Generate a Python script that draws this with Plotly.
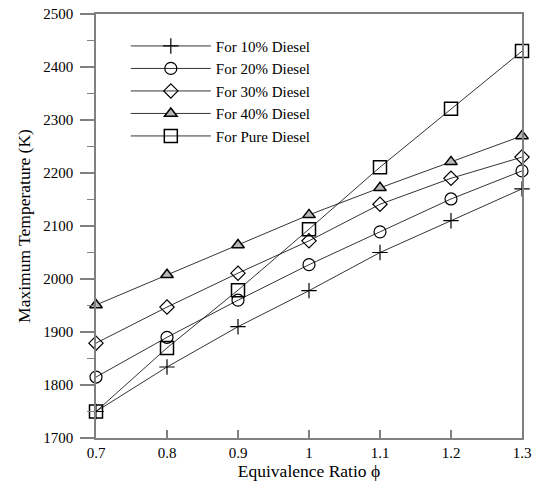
import plotly.graph_objects as go

phi = [0.7, 0.8, 0.9, 1.0, 1.1, 1.2, 1.3]
diesel_10 = [1750, 1834, 1910, 1978, 2050, 2110, 2170]
diesel_20 = [1815, 1890, 1960, 2027, 2089, 2151, 2204]
diesel_30 = [1879, 1947, 2011, 2072, 2141, 2190, 2230]
diesel_40 = [1951, 2008, 2064, 2121, 2172, 2221, 2270]
diesel_pure = [1750, 1870, 1979, 2094, 2211, 2321, 2430]

series_names = ["For 10% Diesel", "For 20% Diesel", "For 30% Diesel", "For 40% Diesel", "For Pure Diesel"]
x_ticks = [0.7, 0.8, 0.9, 1.0, 1.1, 1.2, 1.3]
x_tick_text = ["0.7", "0.8", "0.9", "1", "1.1", "1.2", "1.3"]
y_ticks = [1700, 1800, 1900, 2000, 2100, 2200, 2300, 2400, 2500]

FONT = "Liberation Serif, Times New Roman, serif"
AX = "#808080"

styles = [
    dict(symbol="cross-thin-open", size=11, color="black", line=dict(color="black", width=1.2)),
    dict(symbol="circle-open", size=12, color="black", line=dict(color="black", width=1.2)),
    dict(symbol="diamond-open", size=11, color="black", line=dict(color="black", width=1.2)),
    dict(symbol="triangle-up", size=11, color="#b8b8b8", line=dict(color="black", width=1.5)),
    dict(symbol="square-open", size=13, color="black", line=dict(color="black", width=1.5)),
]

fig = go.Figure()
for name, ys, mk in zip(series_names, [diesel_10, diesel_20, diesel_30, diesel_40, diesel_pure], styles):
    fig.add_trace(go.Scatter(
        x=phi, y=ys, name=name, mode="lines+markers",
        line=dict(color="black", width=0.8),
        marker=mk, cliponaxis=False,
    ))

fig.update_layout(
    width=541, height=486,
    margin=dict(l=96, r=19, t=14, b=48, autoexpand=False),
    paper_bgcolor="white", plot_bgcolor="white",
    font=dict(family=FONT, size=15, color="black"),
    showlegend=True,
    legend=dict(
        x=0.07, y=0.963, xanchor="left", yanchor="top",
        bgcolor="rgba(0,0,0,0)", borderwidth=0,
        font=dict(family=FONT, size=15, color="black"),
        tracegroupgap=0, itemwidth=80,
    ),
    xaxis=dict(
        range=[0.7, 1.3], tickvals=x_ticks, ticktext=x_tick_text,
        ticks="inside", ticklen=8, tickcolor=AX, tickwidth=1.5,
        showline=True, linecolor=AX, linewidth=1.5, mirror=True,
        showgrid=False, zeroline=False, automargin=False,
        title=dict(text="Equivalence Ratio ϕ", font=dict(family=FONT, size=17.5), standoff=2),
        tickfont=dict(family=FONT, size=15),
    ),
    yaxis=dict(
        range=[1700, 2500], tickvals=y_ticks,
        ticks="outside", ticklen=14, tickcolor=AX, tickwidth=1.5, ticklabelstandoff=4,
        minor=dict(dtick=50, ticks="outside", ticklen=7, tickcolor=AX, tickwidth=1.2, showgrid=False),
        showline=True, linecolor=AX, linewidth=1.5, mirror=True,
        showgrid=False, zeroline=False, automargin=False,
        title=dict(text="Maximum Temperature (K)", font=dict(family=FONT, size=17.5), standoff=8),
        tickfont=dict(family=FONT, size=15),
    ),
)

fig.write_html("out.html", config={"displayModeBar": False},
               post_script="document.body.style.margin='0';document.body.style.padding='0';")
